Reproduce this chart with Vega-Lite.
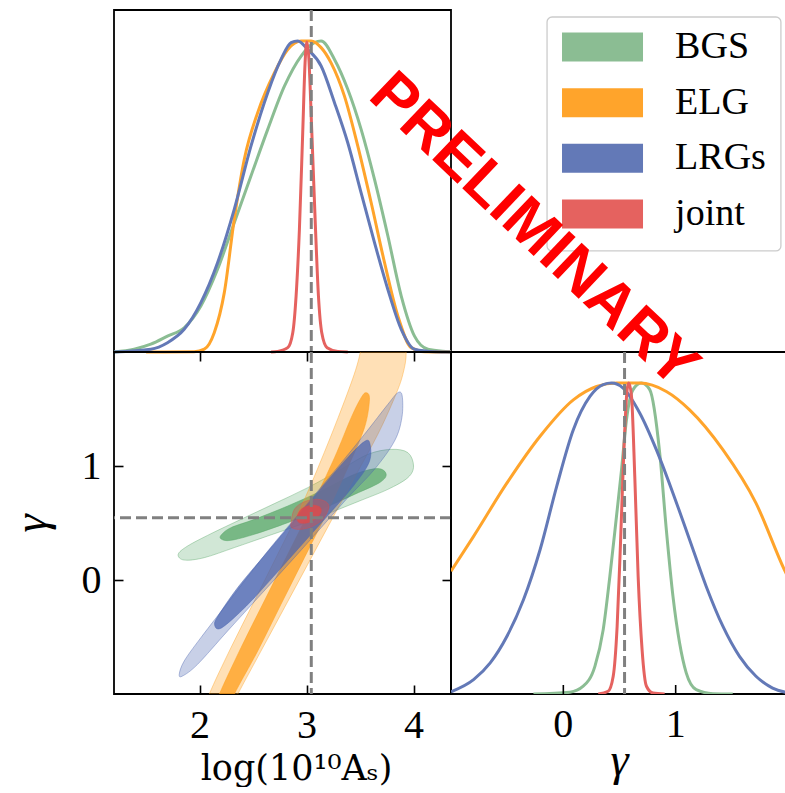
{
  "$schema": "https://vega.github.io/schema/vega-lite/v6.json",
  "padding": {"left": 7, "top": 7, "right": 0, "bottom": 0},
  "background": "white",
  "config": {
    "view": {"stroke": "black", "strokeWidth": 1.8},
    "axis": {"grid": false, "domain": false, "ticks": true, "tickColor": "black", "tickWidth": 1.6, "tickSize": 9, "offset": -9, "labelFont": "Liberation Serif", "labelFontSize": 40, "labelColor": "black", "titleFont": "Liberation Serif", "titleFontWeight": "normal", "titleColor": "black", "zindex": 1},
    "axisBottom": {"labelPadding": 11},
    "axisLeft": {"labelPadding": 13}
  },
  "datasets": {
    "fid": [{"As": 3.044, "gamma": 0.545}],
    "brt": [{"v": 0, "t": "0"}, {"v": 1, "t": "1"}],
    "leg": [{"s": "BGS", "rank": 1}, {"s": "ELG", "rank": 2}, {"s": "LRGs", "rank": 3}, {"s": "joint", "rank": 4}],
    "tl": [
      {"s":"BGS","x":1.201,"y":0},{"s":"BGS","x":1.388,"y":0.009},{"s":"BGS","x":1.544,"y":0.025},{"s":"BGS","x":1.700,"y":0.051},{"s":"BGS","x":1.856,"y":0.078},{"s":"BGS","x":2.012,"y":0.148},{"s":"BGS","x":2.168,"y":0.266},{"s":"BGS","x":2.324,"y":0.416},{"s":"BGS","x":2.480,"y":0.566},{"s":"BGS","x":2.637,"y":0.716},{"s":"BGS","x":2.793,"y":0.855},{"s":"BGS","x":2.949,"y":0.952},{"s":"BGS","x":3.073,"y":0.995},{"s":"BGS","x":3.136,"y":1.0},{"s":"BGS","x":3.261,"y":0.941},{"s":"BGS","x":3.385,"y":0.845},{"s":"BGS","x":3.510,"y":0.716},{"s":"BGS","x":3.635,"y":0.555},{"s":"BGS","x":3.760,"y":0.373},{"s":"BGS","x":3.885,"y":0.180},{"s":"BGS","x":4.009,"y":0.051},{"s":"BGS","x":4.134,"y":0.009},{"s":"BGS","x":4.321,"y":0.001},{"s":"BGS","x":4.35,"y":0},
      {"s":"ELG","x":1.5,"y":0},{"s":"ELG","x":1.950,"y":0.001},{"s":"ELG","x":2.044,"y":0.009},{"s":"ELG","x":2.137,"y":0.062},{"s":"ELG","x":2.231,"y":0.191},{"s":"ELG","x":2.324,"y":0.427},{"s":"ELG","x":2.418,"y":0.620},{"s":"ELG","x":2.543,"y":0.770},{"s":"ELG","x":2.699,"y":0.898},{"s":"ELG","x":2.824,"y":0.973},{"s":"ELG","x":2.949,"y":1.0},{"s":"ELG","x":3.042,"y":1.0},{"s":"ELG","x":3.136,"y":0.979},{"s":"ELG","x":3.229,"y":0.930},{"s":"ELG","x":3.354,"y":0.823},{"s":"ELG","x":3.479,"y":0.662},{"s":"ELG","x":3.604,"y":0.480},{"s":"ELG","x":3.729,"y":0.287},{"s":"ELG","x":3.853,"y":0.116},{"s":"ELG","x":3.978,"y":0.014},{"s":"ELG","x":4.103,"y":0.001},{"s":"ELG","x":4.35,"y":0},
      {"s":"LRGs","x":1.201,"y":0},{"s":"LRGs","x":1.544,"y":0.009},{"s":"LRGs","x":1.700,"y":0.030},{"s":"LRGs","x":1.856,"y":0.073},{"s":"LRGs","x":2.012,"y":0.159},{"s":"LRGs","x":2.168,"y":0.287},{"s":"LRGs","x":2.324,"y":0.459},{"s":"LRGs","x":2.480,"y":0.662},{"s":"LRGs","x":2.637,"y":0.834},{"s":"LRGs","x":2.761,"y":0.941},{"s":"LRGs","x":2.855,"y":0.995},{"s":"LRGs","x":2.917,"y":1.0},{"s":"LRGs","x":3.011,"y":0.973},{"s":"LRGs","x":3.136,"y":0.920},{"s":"LRGs","x":3.261,"y":0.802},{"s":"LRGs","x":3.385,"y":0.673},{"s":"LRGs","x":3.510,"y":0.512},{"s":"LRGs","x":3.635,"y":0.352},{"s":"LRGs","x":3.760,"y":0.201},{"s":"LRGs","x":3.885,"y":0.073},{"s":"LRGs","x":4.009,"y":0.009},{"s":"LRGs","x":4.197,"y":0.001},{"s":"LRGs","x":4.35,"y":0},
      {"s":"joint","x":2.668,"y":0},{"s":"joint","x":2.730,"y":0.002},{"s":"joint","x":2.824,"y":0.014},{"s":"joint","x":2.871,"y":0.062},{"s":"joint","x":2.902,"y":0.180},{"s":"joint","x":2.933,"y":0.394},{"s":"joint","x":2.964,"y":0.706},{"s":"joint","x":2.986,"y":0.930},{"s":"joint","x":3.002,"y":0.997},{"s":"joint","x":3.020,"y":0.952},{"s":"joint","x":3.048,"y":0.716},{"s":"joint","x":3.080,"y":0.427},{"s":"joint","x":3.111,"y":0.180},{"s":"joint","x":3.142,"y":0.062},{"s":"joint","x":3.192,"y":0.014},{"s":"joint","x":3.292,"y":0.002},{"s":"joint","x":3.385,"y":0}
    ],
    "br": [
      {"s":"BGS","g":-0.266,"y":0},{"s":"BGS","g":0.059,"y":0.006},{"s":"BGS","g":0.177,"y":0.025},{"s":"BGS","g":0.281,"y":0.089},{"s":"BGS","g":0.355,"y":0.207},{"s":"BGS","g":0.414,"y":0.378},{"s":"BGS","g":0.473,"y":0.571},{"s":"BGS","g":0.518,"y":0.721},{"s":"BGS","g":0.562,"y":0.882},{"s":"BGS","g":0.621,"y":0.979},{"s":"BGS","g":0.695,"y":1.0},{"s":"BGS","g":0.769,"y":0.979},{"s":"BGS","g":0.858,"y":0.775},{"s":"BGS","g":0.917,"y":0.528},{"s":"BGS","g":0.976,"y":0.314},{"s":"BGS","g":1.035,"y":0.164},{"s":"BGS","g":1.094,"y":0.068},{"s":"BGS","g":1.183,"y":0.014},{"s":"BGS","g":1.331,"y":0.001},{"s":"BGS","g":1.508,"y":0},
      {"s":"ELG","g":-1.0,"y":0.395},{"s":"ELG","g":-0.799,"y":0.507},{"s":"ELG","g":-0.503,"y":0.678},{"s":"ELG","g":-0.207,"y":0.829},{"s":"ELG","g":0.089,"y":0.946},{"s":"ELG","g":0.296,"y":0.989},{"s":"ELG","g":0.473,"y":1.0},{"s":"ELG","g":0.680,"y":1.0},{"s":"ELG","g":0.917,"y":0.973},{"s":"ELG","g":1.124,"y":0.914},{"s":"ELG","g":1.420,"y":0.786},{"s":"ELG","g":1.715,"y":0.614},{"s":"ELG","g":1.967,"y":0.400},{"s":"ELG","g":2.0,"y":0.375},
      {"s":"LRGs","g":-1.0,"y":0.007},{"s":"LRGs","g":-0.799,"y":0.046},{"s":"LRGs","g":-0.651,"y":0.100},{"s":"LRGs","g":-0.503,"y":0.185},{"s":"LRGs","g":-0.355,"y":0.303},{"s":"LRGs","g":-0.207,"y":0.464},{"s":"LRGs","g":-0.059,"y":0.668},{"s":"LRGs","g":0.089,"y":0.850},{"s":"LRGs","g":0.237,"y":0.957},{"s":"LRGs","g":0.355,"y":0.995},{"s":"LRGs","g":0.429,"y":1.0},{"s":"LRGs","g":0.532,"y":0.984},{"s":"LRGs","g":0.680,"y":0.904},{"s":"LRGs","g":0.828,"y":0.786},{"s":"LRGs","g":0.976,"y":0.646},{"s":"LRGs","g":1.124,"y":0.496},{"s":"LRGs","g":1.272,"y":0.346},{"s":"LRGs","g":1.420,"y":0.218},{"s":"LRGs","g":1.568,"y":0.121},{"s":"LRGs","g":1.715,"y":0.057},{"s":"LRGs","g":1.863,"y":0.019},{"s":"LRGs","g":2.0,"y":0.004},
      {"s":"joint","g":0.311,"y":0},{"s":"joint","g":0.399,"y":0.009},{"s":"joint","g":0.444,"y":0.057},{"s":"joint","g":0.479,"y":0.218},{"s":"joint","g":0.509,"y":0.486},{"s":"joint","g":0.538,"y":0.775},{"s":"joint","g":0.568,"y":0.979},{"s":"joint","g":0.583,"y":1.0},{"s":"joint","g":0.607,"y":0.957},{"s":"joint","g":0.636,"y":0.700},{"s":"joint","g":0.666,"y":0.378},{"s":"joint","g":0.701,"y":0.143},{"s":"joint","g":0.740,"y":0.025},{"s":"joint","g":0.799,"y":0.003},{"s":"joint","g":0.902,"y":0}
    ],
    "ct": [
      {"c":"BGS2","i":1,"x":1.800,"y":0.225},{"c":"BGS2","i":2,"x":1.888,"y":0.298},{"c":"BGS2","i":3,"x":2.106,"y":0.406},{"c":"BGS2","i":4,"x":2.387,"y":0.532},{"c":"BGS2","i":5,"x":2.699,"y":0.670},{"c":"BGS2","i":6,"x":3.011,"y":0.810},{"c":"BGS2","i":7,"x":3.323,"y":0.971},{"c":"BGS2","i":8,"x":3.573,"y":1.102},{"c":"BGS2","i":9,"x":3.791,"y":1.146},{"c":"BGS2","i":10,"x":3.947,"y":1.117},{"c":"BGS2","i":11,"x":4.000,"y":1.000},{"c":"BGS2","i":12,"x":3.947,"y":0.898},{"c":"BGS2","i":13,"x":3.760,"y":0.795},{"c":"BGS2","i":14,"x":3.510,"y":0.699},{"c":"BGS2","i":15,"x":3.261,"y":0.605},{"c":"BGS2","i":16,"x":2.949,"y":0.488},{"c":"BGS2","i":17,"x":2.637,"y":0.386},{"c":"BGS2","i":18,"x":2.324,"y":0.284},{"c":"BGS2","i":19,"x":2.044,"y":0.196},{"c":"BGS2","i":20,"x":1.856,"y":0.175},
      {"c":"BGS1","i":1,"x":2.200,"y":0.392},{"c":"BGS1","i":2,"x":2.293,"y":0.459},{"c":"BGS1","i":3,"x":2.512,"y":0.532},{"c":"BGS1","i":4,"x":2.824,"y":0.649},{"c":"BGS1","i":5,"x":3.136,"y":0.781},{"c":"BGS1","i":6,"x":3.448,"y":0.927},{"c":"BGS1","i":7,"x":3.666,"y":0.977},{"c":"BGS1","i":8,"x":3.744,"y":0.927},{"c":"BGS1","i":9,"x":3.682,"y":0.854},{"c":"BGS1","i":10,"x":3.448,"y":0.751},{"c":"BGS1","i":11,"x":3.136,"y":0.620},{"c":"BGS1","i":12,"x":2.824,"y":0.503},{"c":"BGS1","i":13,"x":2.512,"y":0.401},{"c":"BGS1","i":14,"x":2.293,"y":0.348},{"c":"BGS1","i":15,"x":2.206,"y":0.357},
      {"c":"ELG2","i":1,"x":2.044,"y":-1.178},{"c":"ELG2","i":2,"x":2.090,"y":-1.003},{"c":"ELG2","i":3,"x":2.293,"y":-0.594},{"c":"ELG2","i":4,"x":2.512,"y":-0.184},{"c":"ELG2","i":5,"x":2.730,"y":0.225},{"c":"ELG2","i":6,"x":2.945,"y":0.635},{"c":"ELG2","i":7,"x":3.120,"y":1.015},{"c":"ELG2","i":8,"x":3.295,"y":1.424},{"c":"ELG2","i":9,"x":3.445,"y":1.804},{"c":"ELG2","i":10,"x":3.505,"y":2.009},{"c":"ELG2","i":11,"x":3.545,"y":2.213},{"c":"ELG2","i":12,"x":3.715,"y":2.330},{"c":"ELG2","i":13,"x":3.885,"y":2.272},{"c":"ELG2","i":14,"x":3.931,"y":2.009},{"c":"ELG2","i":15,"x":3.900,"y":1.804},{"c":"ELG2","i":16,"x":3.822,"y":1.599},{"c":"ELG2","i":17,"x":3.666,"y":1.278},{"c":"ELG2","i":18,"x":3.448,"y":0.898},{"c":"ELG2","i":19,"x":3.229,"y":0.518},{"c":"ELG2","i":20,"x":3.011,"y":0.137},{"c":"ELG2","i":21,"x":2.793,"y":-0.243},{"c":"ELG2","i":22,"x":2.574,"y":-0.623},{"c":"ELG2","i":23,"x":2.356,"y":-1.003},{"c":"ELG2","i":24,"x":2.262,"y":-1.178},
      {"c":"ELG1","i":1,"x":2.122,"y":-1.178},{"c":"ELG1","i":2,"x":2.184,"y":-1.003},{"c":"ELG1","i":3,"x":2.387,"y":-0.594},{"c":"ELG1","i":4,"x":2.605,"y":-0.184},{"c":"ELG1","i":5,"x":2.824,"y":0.225},{"c":"ELG1","i":6,"x":3.042,"y":0.635},{"c":"ELG1","i":7,"x":3.261,"y":1.073},{"c":"ELG1","i":8,"x":3.417,"y":1.424},{"c":"ELG1","i":9,"x":3.510,"y":1.599},{"c":"ELG1","i":10,"x":3.557,"y":1.643},{"c":"ELG1","i":11,"x":3.588,"y":1.585},{"c":"ELG1","i":12,"x":3.541,"y":1.336},{"c":"ELG1","i":13,"x":3.385,"y":0.985},{"c":"ELG1","i":14,"x":3.198,"y":0.605},{"c":"ELG1","i":15,"x":2.980,"y":0.196},{"c":"ELG1","i":16,"x":2.761,"y":-0.213},{"c":"ELG1","i":17,"x":2.543,"y":-0.623},{"c":"ELG1","i":18,"x":2.324,"y":-1.003},{"c":"ELG1","i":19,"x":2.262,"y":-1.178},
      {"c":"LRG2","i":1,"x":1.810,"y":-0.827},{"c":"LRG2","i":2,"x":1.856,"y":-0.711},{"c":"LRG2","i":3,"x":2.012,"y":-0.506},{"c":"LRG2","i":4,"x":2.324,"y":-0.126},{"c":"LRG2","i":5,"x":2.637,"y":0.254},{"c":"LRG2","i":6,"x":2.949,"y":0.605},{"c":"LRG2","i":7,"x":3.261,"y":0.956},{"c":"LRG2","i":8,"x":3.541,"y":1.278},{"c":"LRG2","i":9,"x":3.760,"y":1.541},{"c":"LRG2","i":10,"x":3.853,"y":1.643},{"c":"LRG2","i":11,"x":3.894,"y":1.614},{"c":"LRG2","i":12,"x":3.891,"y":1.424},{"c":"LRG2","i":13,"x":3.822,"y":1.219},{"c":"LRG2","i":14,"x":3.635,"y":0.971},{"c":"LRG2","i":15,"x":3.385,"y":0.722},{"c":"LRG2","i":16,"x":3.136,"y":0.459},{"c":"LRG2","i":17,"x":2.886,"y":0.196},{"c":"LRG2","i":18,"x":2.574,"y":-0.126},{"c":"LRG2","i":19,"x":2.262,"y":-0.447},{"c":"LRG2","i":20,"x":1.981,"y":-0.740},{"c":"LRG2","i":21,"x":1.841,"y":-0.842},
      {"c":"LRG1","i":1,"x":2.140,"y":-0.389},{"c":"LRG1","i":2,"x":2.190,"y":-0.290},{"c":"LRG1","i":3,"x":2.370,"y":-0.050},{"c":"LRG1","i":4,"x":2.620,"y":0.230},{"c":"LRG1","i":5,"x":2.870,"y":0.508},{"c":"LRG1","i":6,"x":3.120,"y":0.786},{"c":"LRG1","i":7,"x":3.375,"y":1.064},{"c":"LRG1","i":8,"x":3.541,"y":1.215},{"c":"LRG1","i":9,"x":3.592,"y":1.195},{"c":"LRG1","i":10,"x":3.585,"y":1.034},{"c":"LRG1","i":11,"x":3.437,"y":0.824},{"c":"LRG1","i":12,"x":3.190,"y":0.556},{"c":"LRG1","i":13,"x":2.940,"y":0.293},{"c":"LRG1","i":14,"x":2.690,"y":0.030},{"c":"LRG1","i":15,"x":2.435,"y":-0.230},{"c":"LRG1","i":16,"x":2.205,"y":-0.420},
      {"c":"J2","i":1,"x":2.855,"y":0.503},{"c":"J2","i":2,"x":2.886,"y":0.620},{"c":"J2","i":3,"x":2.980,"y":0.687},{"c":"J2","i":4,"x":3.105,"y":0.708},{"c":"J2","i":5,"x":3.192,"y":0.678},{"c":"J2","i":6,"x":3.204,"y":0.620},{"c":"J2","i":7,"x":3.151,"y":0.532},{"c":"J2","i":8,"x":3.042,"y":0.465},{"c":"J2","i":9,"x":2.933,"y":0.444},{"c":"J2","i":10,"x":2.861,"y":0.459},
      {"c":"J1","i":1,"x":2.911,"y":0.547},{"c":"J1","i":2,"x":2.949,"y":0.620},{"c":"J1","i":3,"x":3.042,"y":0.655},{"c":"J1","i":4,"x":3.120,"y":0.643},{"c":"J1","i":5,"x":3.136,"y":0.599},{"c":"J1","i":6,"x":3.098,"y":0.547},{"c":"J1","i":7,"x":3.011,"y":0.503},{"c":"J1","i":8,"x":2.933,"y":0.503}
    ]
  },
  "columns": 2,
  "spacing": 0,
  "bounds": "flush",
  "concat": [
    {
      "width": 337, "height": 342,
      "layer": [
        {
          "data": {"name": "tl"},
          "mark": {"type": "line", "strokeWidth": 3, "interpolate": "monotone"},
          "encoding": {
            "x": {"field": "x", "type": "quantitative", "scale": {"domain": [1.2, 4.35], "nice": false, "zero": false}, "axis": {"orient": "bottom", "values": [2, 3, 4], "labels": false, "title": null}},
            "y": {"field": "y", "type": "quantitative", "scale": {"domain": [0, 1.1], "nice": false}, "axis": null},
            "color": {"field": "s", "type": "nominal", "scale": {"domain": ["BGS", "ELG", "LRGs", "joint"], "range": ["#8bbd93", "#ffa42b", "#6379b7", "#e5625f"]}, "legend": null}
          }
        },
        {
          "data": {"name": "fid"},
          "mark": {"type": "rule", "color": "#808080", "strokeWidth": 3, "strokeDash": [11, 5]},
          "encoding": {"x": {"field": "As", "type": "quantitative", "axis": null}}
        }
      ]
    },
    {
      "width": 337, "height": 342,
      "view": {"stroke": null},
      "layer": [
        {
          "data": {"values": [{"box": "legend"}]},
          "mark": {"type": "rect", "fill": "white", "stroke": "#cccccc", "strokeWidth": 1.3, "cornerRadius": 5},
          "encoding": {
            "x": {"datum": 0.285, "type": "quantitative", "scale": {"domain": [0, 1], "nice": false}, "axis": null},
            "x2": {"datum": 0.979},
            "y": {"datum": 0.461, "type": "quantitative", "scale": {"domain": [0.335, 6.479], "nice": false, "zero": false, "reverse": true}, "axis": null},
            "y2": {"datum": 4.664}
          }
        },
        {
          "data": {"name": "leg"},
          "mark": {"type": "point", "shape": "M-1,-0.358H1V0.358H-1Z", "filled": true, "opacity": 1, "size": 6561, "strokeWidth": 0},
          "encoding": {
            "x": {"datum": 0.4496, "type": "quantitative", "axis": null},
            "y": {"field": "rank", "type": "quantitative", "axis": null},
            "color": {"field": "s", "type": "nominal", "scale": {"domain": ["BGS", "ELG", "LRGs", "joint"], "range": ["#8bbd93", "#ffa42b", "#6379b7", "#e5625f"]}, "legend": null}
          }
        },
        {
          "data": {"name": "leg"},
          "mark": {"type": "text", "align": "left", "baseline": "middle", "font": "Liberation Serif", "fontSize": 38, "color": "black"},
          "encoding": {
            "x": {"datum": 0.665, "type": "quantitative", "axis": null},
            "y": {"field": "rank", "type": "quantitative", "axis": null},
            "text": {"field": "s"}
          }
        }
      ]
    },
    {
      "width": 337, "height": 342,
      "layer": [
        {
          "data": {"name": "ct"}, "transform": [{"filter": {"field": "c", "equal": "BGS2"}}],
          "mark": {"type": "line", "interpolate": "cardinal-closed", "fill": "#5aa86a", "fillOpacity": 0.28, "stroke": "#5aa86a", "strokeOpacity": 0.4, "strokeWidth": 1, "clip": true},
          "encoding": {
            "x": {"field": "x", "type": "quantitative", "scale": {"domain": [1.2, 4.35], "nice": false, "zero": false}, "axis": {"orient": "bottom", "values": [2, 3, 4], "title": "log(10¹⁰Aₛ)", "titleFont": "DejaVu Serif", "titleFontSize": 35, "titlePadding": 6, "titleX": 182}},
            "y": {"field": "y", "type": "quantitative", "scale": {"domain": [-1, 2], "nice": false, "zero": false}, "axis": {"orient": "left", "values": [0, 1], "title": "γ", "titleFontStyle": "italic", "titleFontSize": 46, "titleAngle": -90, "titleAlign": "center", "titleBaseline": "middle", "titleX": -92, "titleY": 171}},
            "order": {"field": "i", "type": "quantitative"}
          }
        },
        {
          "data": {"name": "ct"}, "transform": [{"filter": {"field": "c", "equal": "BGS1"}}],
          "mark": {"type": "line", "interpolate": "cardinal-closed", "fill": "#5aa86a", "fillOpacity": 0.75, "stroke": "#5aa86a", "strokeOpacity": 0.5, "strokeWidth": 1, "clip": true},
          "encoding": {
            "x": {"field": "x", "type": "quantitative", "axis": {"orient": "top", "values": [2, 3, 4], "labels": false, "title": null}},
            "y": {"field": "y", "type": "quantitative", "axis": {"orient": "right", "values": [0, 1], "labels": false, "title": null}},
            "order": {"field": "i", "type": "quantitative"}
          }
        },
        {
          "data": {"name": "ct"}, "transform": [{"filter": {"field": "c", "equal": "ELG2"}}],
          "mark": {"type": "line", "interpolate": "cardinal-closed", "fill": "#ff9f1c", "fillOpacity": 0.32, "stroke": "#ff9f1c", "strokeOpacity": 0.4, "strokeWidth": 1, "clip": true},
          "encoding": {
            "x": {"field": "x", "type": "quantitative", "axis": null},
            "y": {"field": "y", "type": "quantitative", "axis": null},
            "order": {"field": "i", "type": "quantitative"}
          }
        },
        {
          "data": {"name": "ct"}, "transform": [{"filter": {"field": "c", "equal": "ELG1"}}],
          "mark": {"type": "line", "interpolate": "cardinal-closed", "fill": "#ff9f1c", "fillOpacity": 0.75, "stroke": "#ff9f1c", "strokeOpacity": 0.5, "strokeWidth": 1, "clip": true},
          "encoding": {
            "x": {"field": "x", "type": "quantitative", "axis": null},
            "y": {"field": "y", "type": "quantitative", "axis": null},
            "order": {"field": "i", "type": "quantitative"}
          }
        },
        {
          "data": {"name": "ct"}, "transform": [{"filter": {"field": "c", "equal": "LRG2"}}],
          "mark": {"type": "line", "interpolate": "cardinal-closed", "fill": "#4a64b0", "fillOpacity": 0.3, "stroke": "#4a64b0", "strokeOpacity": 0.4, "strokeWidth": 1, "clip": true},
          "encoding": {
            "x": {"field": "x", "type": "quantitative", "axis": null},
            "y": {"field": "y", "type": "quantitative", "axis": null},
            "order": {"field": "i", "type": "quantitative"}
          }
        },
        {
          "data": {"name": "ct"}, "transform": [{"filter": {"field": "c", "equal": "LRG1"}}],
          "mark": {"type": "line", "interpolate": "cardinal-closed", "fill": "#4a64b0", "fillOpacity": 0.72, "stroke": "#4a64b0", "strokeOpacity": 0.5, "strokeWidth": 1, "clip": true},
          "encoding": {
            "x": {"field": "x", "type": "quantitative", "axis": null},
            "y": {"field": "y", "type": "quantitative", "axis": null},
            "order": {"field": "i", "type": "quantitative"}
          }
        },
        {
          "data": {"name": "ct"}, "transform": [{"filter": {"field": "c", "equal": "J2"}}],
          "mark": {"type": "line", "interpolate": "cardinal-closed", "fill": "#e04a4a", "fillOpacity": 0.35, "stroke": "#e04a4a", "strokeOpacity": 0.4, "strokeWidth": 1, "clip": true},
          "encoding": {
            "x": {"field": "x", "type": "quantitative", "axis": null},
            "y": {"field": "y", "type": "quantitative", "axis": null},
            "order": {"field": "i", "type": "quantitative"}
          }
        },
        {
          "data": {"name": "ct"}, "transform": [{"filter": {"field": "c", "equal": "J1"}}],
          "mark": {"type": "line", "interpolate": "cardinal-closed", "fill": "#e04a4a", "fillOpacity": 0.8, "stroke": "#e04a4a", "strokeOpacity": 0.5, "strokeWidth": 1, "clip": true},
          "encoding": {
            "x": {"field": "x", "type": "quantitative", "axis": null},
            "y": {"field": "y", "type": "quantitative", "axis": null},
            "order": {"field": "i", "type": "quantitative"}
          }
        },
        {
          "data": {"name": "fid"},
          "mark": {"type": "rule", "color": "#808080", "strokeWidth": 3, "strokeDash": [11, 5]},
          "encoding": {"x": {"field": "As", "type": "quantitative", "axis": null}}
        },
        {
          "data": {"name": "fid"},
          "mark": {"type": "rule", "color": "#808080", "strokeWidth": 3, "strokeDash": [11, 5]},
          "encoding": {"y": {"field": "gamma", "type": "quantitative", "axis": null}}
        }
      ]
    },
    {
      "width": 337, "height": 342,
      "layer": [
        {
          "data": {"name": "br"},
          "mark": {"type": "line", "strokeWidth": 3, "interpolate": "monotone", "clip": true},
          "encoding": {
            "x": {"field": "g", "type": "quantitative", "scale": {"domain": [-1, 2], "nice": false, "zero": false}, "axis": null},
            "y": {"field": "y", "type": "quantitative", "scale": {"domain": [0, 1.1], "nice": false}, "axis": null},
            "color": {"field": "s", "type": "nominal", "scale": {"domain": ["BGS", "ELG", "LRGs", "joint"], "range": ["#8bbd93", "#ffa42b", "#6379b7", "#e5625f"]}, "legend": null}
          }
        },
        {
          "data": {"name": "fid"},
          "mark": {"type": "rule", "color": "#808080", "strokeWidth": 3, "strokeDash": [11, 5]},
          "encoding": {"x": {"field": "gamma", "type": "quantitative", "axis": null}}
        },
        {
          "data": {"name": "brt"},
          "mark": {"type": "rule", "color": "black", "strokeWidth": 1.6},
          "encoding": {
            "x": {"field": "v", "type": "quantitative", "axis": null},
            "y": {"datum": 0, "type": "quantitative", "axis": null},
            "y2": {"datum": 0.029}
          }
        },
        {
          "data": {"name": "brt"},
          "mark": {"type": "text", "font": "Liberation Serif", "fontSize": 40, "baseline": "top", "align": "center", "color": "black"},
          "encoding": {
            "x": {"field": "v", "type": "quantitative", "axis": null},
            "y": {"datum": -0.0354, "type": "quantitative", "axis": null},
            "text": {"field": "t"}
          }
        },
        {
          "data": {"values": [{"t": "γ"}]},
          "mark": {"type": "text", "font": "Liberation Serif", "fontStyle": "italic", "fontSize": 46, "baseline": "top", "align": "center", "color": "black"},
          "encoding": {
            "x": {"datum": 0.5, "type": "quantitative", "axis": null},
            "y": {"datum": -0.145, "type": "quantitative", "axis": null},
            "text": {"field": "t"}
          }
        },
        {
          "data": {"values": [{"label": "PRELIMINARY"}]},
          "mark": {"type": "text", "font": "Liberation Sans", "fontWeight": "bold", "fontSize": 62, "color": "#ff0000", "angle": 43.5, "align": "center", "baseline": "middle"},
          "encoding": {
            "x": {"datum": -0.262, "type": "quantitative", "axis": null},
            "y": {"datum": 1.492, "type": "quantitative", "axis": null},
            "text": {"field": "label"}
          }
        }
      ]
    }
  ]
}
